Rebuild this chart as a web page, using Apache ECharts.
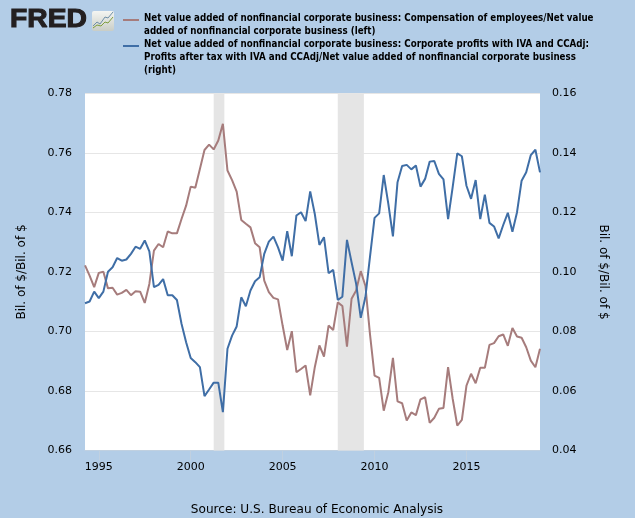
<!DOCTYPE html>
<html><head><meta charset="utf-8">
<style>html,body{margin:0;padding:0;background:#b3cde7}#c{width:635px;height:518px}</style>
<script src="https://cdn.jsdelivr.net/npm/echarts@6/dist/echarts.min.js"></script>
</head><body><div id="c"></div>
<script>
const startYear = 1994.25;
const tickYears = [1995, 2000, 2005, 2010, 2015];
const leftTicks = [0.66, 0.68, 0.70, 0.72, 0.74, 0.76, 0.78];
const rightTicks = [0.04, 0.06, 0.08, 0.10, 0.12, 0.14, 0.16];
const recessions = [[2001.25, 2001.83], [2008.0, 2009.42]];
const compensation = [.7222,.7188,.7149,.7197,.7201,.7145,.7147,.7124,.7130,.7140,.7122,.7135,.7134,.7096,.7160,.7272,.7294,.7283,.7336,.7330,.7330,.7378,.7423,.7487,.7483,.7546,.7610,.7628,.7612,.7642,.7698,.7541,.7509,.7470,.7375,.7362,.7350,.7297,.7283,.7171,.7132,.7113,.7108,.7020,.6938,.7001,.6863,.6874,.6886,.6785,.6880,.6953,.6916,.7020,.7005,.7098,.7086,.6949,.7110,.7138,.7203,.7154,.6992,.6852,.6844,.6734,.6796,.6911,.6765,.6759,.6701,.6728,.6719,.6772,.6779,.6693,.6710,.6740,.6743,.6880,.6774,.6684,.6703,.6818,.6858,.6826,.6878,.6878,.6955,.6961,.6984,.6990,.6952,.7012,.6983,.6979,.6947,.6902,.6880,.6942];
const profits = [.0895,.0901,.0934,.0912,.0934,.1001,.1016,.1047,.1038,.1042,.1061,.1085,.1078,.1106,.1069,.0949,.0957,.0976,.0922,.0922,.0906,.0826,.0764,.0711,.0697,.0680,.0583,.0605,.0628,.0628,.0529,.0742,.0786,.0817,.0915,.0885,.0938,.0969,.0982,.1061,.1102,.1119,.1083,.1038,.1137,.1053,.1190,.1201,.1171,.1271,.1195,.1091,.1117,.0996,.1007,.0906,.0917,.1108,.1033,.0960,.0846,.0915,.1050,.1182,.1197,.1326,.1229,.1120,.1302,.1356,.1360,.1345,.1358,.1287,.1313,.1371,.1373,.1330,.1311,.1178,.1285,.1399,.1389,.1290,.1246,.1309,.1178,.1260,.1165,.1153,.1113,.1158,.1199,.1135,.1201,.1307,.1335,.1393,.1411,.1335];
const legendA = "Net value added of nonfinancial corporate business: Compensation of employees/Net value\nadded of nonfinancial corporate business (left)";
const legendB = "Net value added of nonfinancial corporate business: Corporate profits with IVA and CCAdj:\nProfits after tax with IVA and CCAdj/Net value added of nonfinancial corporate business\n(right)";
const yName = "Bil. of $/Bil. of $";
const source = "Source: U.S. Bureau of Economic Analysis";

const BROWN = '#a67c7c', BLUE = '#3f6ea6';
const toPairs = arr => arr.map((v, i) => [startYear + i * 0.25, v]);
const legendFont = {fontFamily:'"DejaVu Sans Condensed","DejaVu Sans"',fontWeight:'bold',fontSize:9.7,lineHeight:13,fill:'#000'};
const chart = echarts.init(document.getElementById('c'), null, {renderer:'canvas'});
const yAxisBase = {
  type:'value', min:0, max:1, interval:0.02, nameLocation:'middle',
  nameTextStyle:{fontFamily:'DejaVu Sans',fontSize:12,color:'#000'},
  axisLine:{show:false},
  axisLabel:{fontFamily:'DejaVu Sans',fontSize:11,color:'#000',padding:[2,0,0,0]}
};
chart.setOption({
  animation:false,
  backgroundColor:'#b3cde7',
  grid:{left:85,right:95,top:93.5,bottom:67.5,backgroundColor:'#fff',show:true,borderWidth:0},
  xAxis:{
    type:'value', min:startYear, max:2019,
    axisLine:{show:true,lineStyle:{color:'#c0d0e0',width:1}}, splitLine:{show:false},
    axisTick:{show:true,length:10,customValues:tickYears,lineStyle:{color:'#c0d0e0',width:1}},
    axisLabel:{customValues:tickYears,formatter:v=>String(Math.round(v)),fontFamily:'DejaVu Sans',fontSize:11,color:'#000',margin:11,hideOverlap:false}
  },
  yAxis:[
    Object.assign({},yAxisBase,{min:leftTicks[0],max:leftTicks[6],position:'left',name:yName,nameGap:57,
      axisTick:{show:false},
      axisLabel:Object.assign({},yAxisBase.axisLabel,{margin:13,formatter:v=>v.toFixed(2)}),
      splitLine:{show:true,lineStyle:{color:'#e6e6e6',width:1}}}),
    Object.assign({},yAxisBase,{min:rightTicks[0],max:rightTicks[6],position:'right',name:yName,nameGap:57,nameRotate:-90,
      axisTick:{show:false},
      axisLabel:Object.assign({},yAxisBase.axisLabel,{margin:12,formatter:v=>v.toFixed(2)}),
      splitLine:{show:false}})
  ],
  series:[
    {type:'line',yAxisIndex:0,data:toPairs(compensation),symbol:'none',z:3,lineStyle:{color:BROWN,width:2},
     markArea:{silent:true,z:1,itemStyle:{color:'#e5e5e5',opacity:1},data:recessions.map(r=>[{xAxis:r[0]},{xAxis:r[1]}])}},
    {type:'line',yAxisIndex:1,data:toPairs(profits),symbol:'none',z:4,lineStyle:{color:BLUE,width:2}}
  ],
  graphic:[
    {type:'text',x:10,y:20,scaleX:1.13,style:{text:'FRED',fontFamily:'"Liberation Sans"',fontWeight:'bold',fontSize:25,fill:'#231f20',stroke:'#231f20',lineWidth:1,verticalAlign:'middle'}},
    {type:'rect',shape:{x:92,y:11,width:22,height:20,r:2},style:{fill:new echarts.graphic.LinearGradient(0,0,0,1,[{offset:0,color:'#f4f5f2'},{offset:1,color:'#c9cdc6'}])}},
    {type:'polyline',shape:{points:[[93,26],[97,22],[100,24],[105,17],[108,18],[113,12]]},style:{stroke:'#6f8fa8',fill:null,lineWidth:1}},
    {type:'polyline',shape:{points:[[93,28],[97,25],[101,26],[105,22],[108,23],[113,17]]},style:{stroke:'#7f9f3f',fill:null,lineWidth:1}},
    {type:'rect',shape:{x:123,y:19,width:16,height:2},style:{fill:BROWN}},
    {type:'rect',shape:{x:123,y:45,width:16,height:2},style:{fill:BLUE}},
    {type:'text',x:144,y:12,style:Object.assign({text:legendA},legendFont)},
    {type:'text',x:144,y:38,style:Object.assign({text:legendB},legendFont)},
    {type:'text',x:317,y:504,style:{text:source,fontFamily:'DejaVu Sans',fontSize:12.1,fill:'#000',align:'center'}}
  ]
});
</script></body></html>
